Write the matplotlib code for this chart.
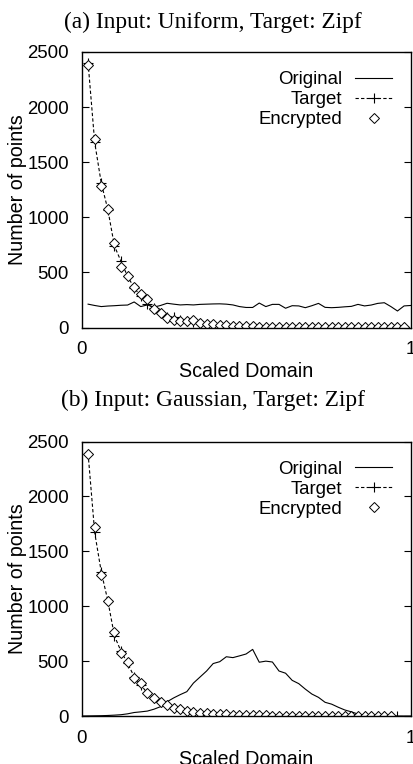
#!/usr/bin/env python3
"""
Histogram of points over the scaled domain: original, target (Zipf)
and encrypted distributions, for uniform and gaussian inputs.
"""

import numpy as np
import matplotlib
matplotlib.use('Agg')
import matplotlib.pyplot as plt
from matplotlib.lines import Line2D

plt.rcParams['font.family'] = ['Liberation Sans', 'DejaVu Sans']

# ---- data ----
# (a) Uniform input
uni_x_orig = np.round(np.arange(1, 51) * 0.02, 2)
uni_orig = [212, 200, 190, 195, 198, 202, 204, 232, 190, 205,
            185, 200, 220, 212, 205, 208, 205, 210, 212, 214,
            215, 212, 205, 190, 182, 182, 222, 190, 210, 210,
            175, 198, 196, 180, 198, 219, 183, 180, 183, 188,
            192, 210, 196, 204, 219, 225, 190, 150, 196, 200]
uni_x_target = np.round(np.arange(1, 50) * 0.02, 2)
uni_target = [2400, 1680, 1310, 1070, 740, 600, 465, 360, 285, 215,
              175, 135, 100, 95, 70, 58, 48, 40, 32, 26,
              22, 18, 15, 13, 11, 9, 8, 7, 6, 5,
              5, 4, 4, 3, 3, 3, 2, 2, 2, 2,
              2, 1, 1, 1, 1, 1, 1, 1, 1]
uni_x_enc = uni_x_target
uni_enc = [2380, 1710, 1280, 1075, 765, 552, 465, 370, 300, 255,
           170, 128, 88, 68, 62, 55, 68, 42, 35, 28,
           24, 20, 17, 14, 12, 10, 9, 8, 7, 6,
           5, 5, 4, 4, 3, 3, 3, 2, 2, 2,
           2, 2, 1, 1, 1, 1, 1, 1, 1]

# (b) Gaussian input
gau_x_orig = np.round(np.arange(0, 51) * 0.02, 2)
gau_orig = [0, 1, 2, 3, 5, 8, 12, 20, 32, 38,
            45, 62, 85, 130, 165, 195, 222, 300, 355, 410,
            478, 495, 540, 532, 548, 565, 607, 490, 500, 492,
            410, 390, 325, 295, 245, 200, 170, 125, 108, 80,
            55, 38, 18, 8, 4, 2, 1, 0, 0, 0, 0]
gau_x_target = np.round(np.arange(1, 49) * 0.02, 2)
gau_target = [2390, 1672, 1312, 1050, 730, 590, 480, 358, 283, 210,
              160, 128, 100, 77, 60, 48, 40, 32, 26, 21,
              17, 14, 12, 10, 8, 7, 6, 5, 4, 4,
              3, 3, 2, 2, 2, 2, 1, 1, 1, 1,
              1, 1, 1, 1, 1, 1, 1, 1]
gau_x_enc = np.round(np.arange(1, 48) * 0.02, 2)
gau_enc = [2385, 1726, 1285, 1045, 768, 571, 492, 344, 298, 207,
           167, 125, 100, 76, 61, 49, 40, 30, 26, 21,
           18, 15, 12, 10, 8, 7, 6, 5, 4, 4,
           3, 3, 2, 2, 2, 2, 1, 1, 1, 1,
           1, 1, 1, 1, 1, 1, 1]

y_ticks = [0, 500, 1000, 1500, 2000, 2500]
x_ticks = [0, 1]
titles = ['(a) Input: Uniform, Target: Zipf',
          '(b) Input: Gaussian, Target: Zipf']

FS = 13.4      # ticks and key
FS_LAB = 14.2  # axis labels
DASH = (0, (3, 2))


def draw_panel(ax, xo, yo, xt, yt, xe, ye):
    """Draw one histogram panel in gnuplot style"""
    ax.plot(xo, yo, color='black', lw=0.8)
    ax.plot(xt, yt, color='black', lw=0.8, linestyle=DASH,
            marker='+', markersize=7.5, markeredgewidth=0.8)
    ax.plot(xe, ye, linestyle='none', marker='D', markersize=4.8,
            markerfacecolor='white', markeredgecolor='black',
            markeredgewidth=0.7)

    ax.set_xlim(0, 1)
    ax.set_ylim(0, 2500)
    ax.set_xticks(x_ticks)
    ax.set_xticklabels([str(t) for t in x_ticks])
    ax.set_yticks(y_ticks)
    ax.tick_params(axis='y', direction='in', length=5, width=0.8,
                   right=True, labelsize=FS, pad=9)
    ax.tick_params(axis='x', length=0, labelsize=FS, pad=10)
    for s in ax.spines.values():
        s.set_linewidth(1.0)

    ax.set_ylabel('Number of points', fontsize=FS_LAB, va='center')
    ax.yaxis.set_label_coords(-0.196, 0.5)
    ax.set_xlabel('Scaled Domain', fontsize=FS_LAB, va='center')
    ax.xaxis.set_label_coords(0.5, -0.16)

    # key: text first, sample after (gnuplot style)
    handles = [
        Line2D([], [], color='black', lw=0.8),
        Line2D([], [], color='black', lw=0.8, linestyle=DASH,
               marker='+', markersize=7.5, markeredgewidth=0.8),
        Line2D([], [], linestyle='none', marker='D', markersize=4.8,
               markerfacecolor='white', markeredgecolor='black',
               markeredgewidth=0.7),
    ]
    ax.legend(handles, ['Original', 'Target', 'Encrypted'],
              loc='upper right', bbox_to_anchor=(0.944, 0.93),
              markerfirst=False, frameon=False, fontsize=FS,
              handlelength=2.0, handletextpad=0.7, labelspacing=0.16,
              borderpad=0, borderaxespad=0, numpoints=1)


fig = plt.figure(figsize=(4.14, 7.64), dpi=100)
ax1 = fig.add_axes([0.1969, 0.5713, 0.795, 0.3607])
ax2 = fig.add_axes([0.1969, 0.0628, 0.795, 0.3592])

draw_panel(ax1, uni_x_orig, uni_orig, uni_x_target, uni_target,
           uni_x_enc, uni_enc)
draw_panel(ax2, gau_x_orig, gau_orig, gau_x_target, gau_target,
           gau_x_enc, gau_enc)

fig.text(213 / 414, 1 - 22.5 / 764, titles[0], ha='center', va='center',
         fontsize=16.8, family=['Liberation Serif', 'DejaVu Serif'])
fig.text(213 / 414, 1 - 400 / 764, titles[1], ha='center', va='center',
         fontsize=16.8, family=['Liberation Serif', 'DejaVu Serif'])

plt.savefig('out.png', dpi=100)
plt.close()
